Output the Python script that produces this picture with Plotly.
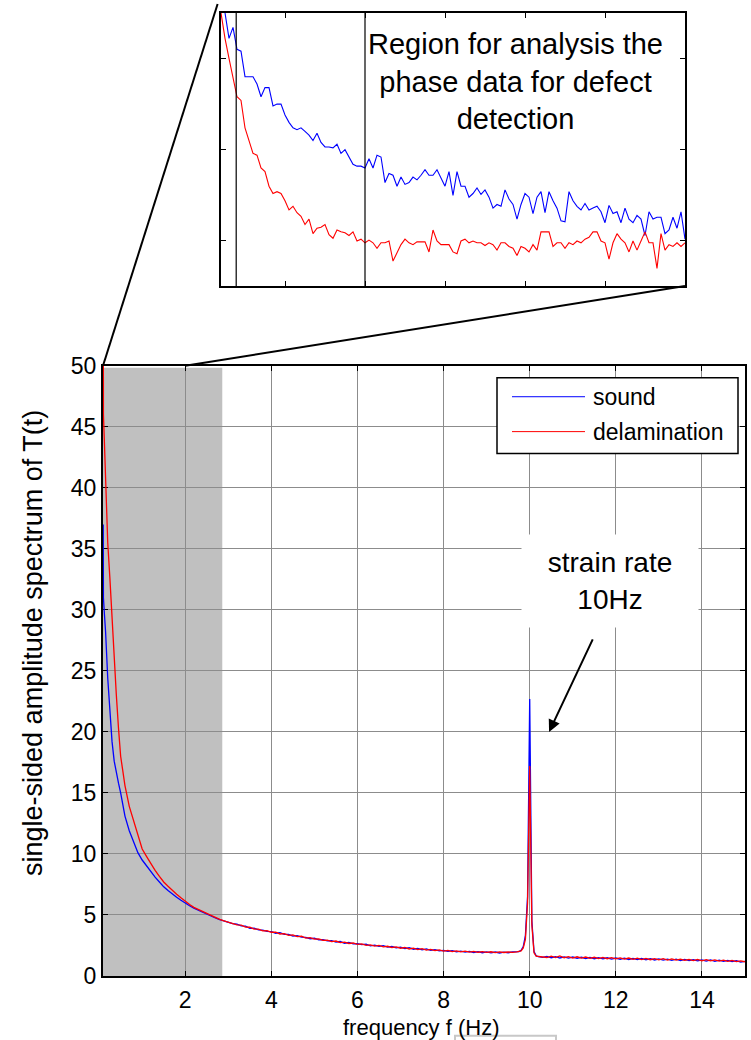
import numpy as np
import plotly.graph_objects as go

W, H = 751, 1040
FONT = "Liberation Sans, Arial, Helvetica, sans-serif"

# ---------------- main spectrum data ----------------
freq_low = [0.095, 0.1, 0.12, 0.15, 0.2, 0.25, 0.3, 0.35, 0.4, 0.45, 0.5, 0.55, 0.6,
            0.7, 0.8, 0.9, 1.0, 1.1, 1.2, 1.3, 1.4, 1.5, 1.6, 1.7, 1.8, 1.9, 2.0,
            2.1, 2.2, 2.3, 2.4, 2.5, 2.6, 2.7, 2.8, 2.9, 3.0]
sound_low = [37.0, 31.0, 29.8, 28.2, 24.4, 21.9, 19.2, 17.6, 16.6, 15.8, 15.0, 14.1, 13.1,
             11.9, 11.0, 10.1, 9.5, 9.0, 8.6, 8.1, 7.7, 7.3, 7.0, 6.7, 6.45, 6.2, 5.94,
             5.75, 5.55, 5.38, 5.22, 5.05, 4.9, 4.75, 4.62, 4.5, 4.42]
delam_low = [62.0, 46.0, 44.0, 40.5, 35.5, 32.6, 29.0, 25.8, 23.0, 20.3, 18.0, 16.8, 15.6,
             13.9, 12.8, 11.6, 10.4, 9.8, 9.2, 8.65, 8.15, 7.7, 7.35, 7.0, 6.7, 6.4, 6.1,
             5.85, 5.62, 5.45, 5.3, 5.12, 4.95, 4.78, 4.64, 4.52, 4.4]

freq_mid = np.round(np.arange(3.1, 9.71, 0.1), 2).tolist()
sound_mid = [4.28, 4.25, 4.10, 4.08, 3.90, 3.92, 3.78, 3.76, 3.66, 3.63,
             3.50, 3.55, 3.40, 3.40, 3.26, 3.30, 3.18, 3.16, 3.05, 3.09,
             2.95, 2.98, 2.87, 2.90, 2.78, 2.82, 2.68, 2.74, 2.62, 2.64,
             2.56, 2.60, 2.47, 2.52, 2.42, 2.48, 2.36, 2.41, 2.30, 2.36,
             2.24, 2.31, 2.19, 2.26, 2.14, 2.21, 2.10, 2.16, 2.05, 2.10,
             2.02, 2.08, 1.98, 2.04, 1.96, 2.01, 1.92, 1.99, 1.90, 1.97,
             1.89, 1.96, 1.88, 1.95, 1.90, 1.97, 1.98]
delam_mid = [4.34, 4.18, 4.17, 4.00, 3.99, 3.83, 3.84, 3.70, 3.72, 3.58,
             3.58, 3.44, 3.47, 3.33, 3.36, 3.22, 3.25, 3.10, 3.14, 3.01,
             3.03, 2.91, 2.93, 2.82, 2.86, 2.73, 2.77, 2.66, 2.70, 2.58,
             2.63, 2.51, 2.55, 2.45, 2.50, 2.38, 2.43, 2.33, 2.38, 2.27,
             2.33, 2.21, 2.28, 2.16, 2.23, 2.12, 2.18, 2.08, 2.13, 2.04,
             2.09, 2.00, 2.05, 1.97, 2.03, 1.95, 2.01, 1.94, 1.99, 1.93,
             1.98, 1.91, 1.97, 1.92, 1.96, 1.93, 1.97]

freq_peak = [9.75, 9.8, 9.85, 9.9, 9.95, 10.0, 10.05, 10.1, 10.15, 10.2]
sound_peak = [2.0, 2.1, 2.4, 3.3, 6.5, 22.7, 4.5, 2.0, 1.65, 1.58]
delam_peak = [2.0, 2.05, 2.3, 3.0, 6.0, 17.2, 4.2, 1.9, 1.62, 1.6]

freq_tail = np.round(np.arange(10.3, 15.01, 0.1), 2).tolist()
sound_tail = [1.52, 1.60, 1.49, 1.58, 1.47, 1.56, 1.46, 1.55, 1.45, 1.53,
              1.43, 1.52, 1.41, 1.50, 1.40, 1.49, 1.38, 1.47, 1.37, 1.46,
              1.35, 1.44, 1.34, 1.43, 1.32, 1.41, 1.31, 1.40, 1.30, 1.38,
              1.28, 1.37, 1.26, 1.35, 1.25, 1.34, 1.24, 1.32, 1.22, 1.31,
              1.20, 1.29, 1.19, 1.27, 1.17, 1.25, 1.13, 1.20]
delam_tail = [1.61, 1.51, 1.62, 1.50, 1.64, 1.49, 1.58, 1.47, 1.57, 1.46,
              1.55, 1.44, 1.53, 1.42, 1.52, 1.41, 1.50, 1.40, 1.48, 1.38,
              1.47, 1.36, 1.45, 1.34, 1.44, 1.33, 1.42, 1.32, 1.41, 1.30,
              1.39, 1.29, 1.38, 1.27, 1.36, 1.26, 1.35, 1.24, 1.33, 1.23,
              1.31, 1.21, 1.29, 1.19, 1.27, 1.17, 1.24, 1.16]

freq = freq_low + freq_mid + freq_peak + freq_tail
sound = sound_low + sound_mid + sound_peak + sound_tail
delam = delam_low + delam_mid + delam_peak + delam_tail

# ---------------- inset data ----------------
inset_freq = np.round(np.arange(0.2, 6.001, 0.05), 3).tolist()
inset_sound = [3.30, 3.25, 3.11, 3.17, 3.05, 3.04, 2.90, 2.90, 2.90, 2.86,
               2.79, 2.84, 2.84, 2.74, 2.75, 2.75, 2.69, 2.65, 2.62, 2.61,
               2.62, 2.60, 2.58, 2.55, 2.59, 2.54, 2.515, 2.515, 2.51, 2.53,
               2.48, 2.50, 2.46, 2.42, 2.41, 2.41, 2.40, 2.45, 2.40, 2.47,
               2.46, 2.32, 2.37, 2.36, 2.30, 2.35, 2.31, 2.32, 2.35, 2.335,
               2.36, 2.39, 2.36, 2.36, 2.39, 2.345, 2.30, 2.38, 2.25, 2.38,
               2.30, 2.30, 2.24, 2.26, 2.29, 2.255, 2.28, 2.24, 2.18, 2.20,
               2.19, 2.28, 2.23, 2.20, 2.12, 2.20, 2.26, 2.24, 2.15, 2.24,
               2.27, 2.155, 2.27, 2.22, 2.18, 2.11, 2.105, 2.27, 2.22, 2.19,
               2.17, 2.205, 2.17, 2.18, 2.19, 2.16, 2.10, 2.195, 2.15, 2.16,
               2.10, 2.18, 2.12, 2.10, 2.14, 2.12, 2.03, 2.16, 2.12, 2.13,
               2.13, 2.04, 2.06, 2.13, 2.07, 2.16, 2.01]
inset_delam = [3.25, 3.11, 3.00, 2.90, 2.79, 2.77, 2.62, 2.55, 2.48, 2.47,
               2.40, 2.38, 2.30, 2.26, 2.27, 2.26, 2.22, 2.17, 2.19, 2.155,
               2.135, 2.09, 2.12, 2.04, 2.07, 2.075, 2.09, 2.035, 2.015, 2.06,
               2.05, 2.045, 2.03, 2.05, 2.00, 2.01, 1.99, 2.005, 1.99, 1.96,
               1.99, 1.99, 2.00, 1.89, 1.94, 1.98, 2.01, 1.99, 1.98, 1.995,
               1.995, 1.995, 1.94, 2.06, 2.00, 1.98, 1.98, 1.98, 1.94, 1.93,
               2.00, 2.01, 1.99, 2.00, 1.99, 1.99, 1.975, 1.99, 1.98, 1.95,
               1.99, 1.99, 1.97, 1.96, 1.92, 1.97, 1.96, 1.94, 1.98, 1.95,
               2.05, 2.05, 2.05, 1.97, 1.99, 1.99, 1.96, 1.99, 1.98, 2.00,
               1.99, 2.01, 2.02, 2.05, 2.05, 2.00, 1.99, 1.90, 1.99, 2.04,
               2.01, 1.99, 1.94, 2.00, 1.95, 2.00, 2.05, 1.99, 1.99, 1.85,
               2.04, 1.95, 1.98, 1.97, 1.99, 1.97, 1.99]
inset_markers = [0.39, 2.0]

# ---------------- ticks / ranges / annotation anchors ----------------
x_ticks = [2, 4, 6, 8, 10, 12, 14]
y_ticks = [0, 5, 10, 15, 20, 25, 30, 35, 40, 45, 50]
inset_xticks = [1, 2, 3, 4, 5, 6]
inset_yticks = [2, 2.5, 3]
x_range = [0.09, 15.0]
y_range = [0, 50]
inset_x_range = [0.2, 6.0]
inset_y_range = [1.753, 3.249]
shade_band = [0.09, 2.86]
shade_top = 49.85
zoom_edge_freq = 2.0
arrow_tip = (10.45, 20.0)
arrow_tail = (11.48, 27.7)
strain_label = (11.87, 32.4)
inset_label = (3.875, 2.876)

# the photographed page comes out slightly squeezed vertically; compensate
V_SCALE, V_OFF = 0.978, 9.1


def pxx(p):
    return p / W


def pxy(p, clamp=False):
    v = 1 - ((p - V_OFF) / V_SCALE) / H
    if clamp:
        v = min(1.0, max(0.0, v))
    return v


main_dx = [pxx(103), pxx(745)]
main_dy = [pxy(975, True), pxy(363, True)]
inset_dx = [pxx(221), pxx(685)]
inset_dy = [pxy(283, True), pxy(6, True)]

BLUE = "#0000ff"
RED = "#ff0000"

fig = go.Figure()
fig.add_trace(go.Scatter(x=freq, y=sound, mode="lines", name="sound",
                         line=dict(color=BLUE, width=1.3), xaxis="x", yaxis="y"))
fig.add_trace(go.Scatter(x=freq, y=delam, mode="lines", name="delamination",
                         line=dict(color=RED, width=1.3), xaxis="x", yaxis="y"))
fig.add_trace(go.Scatter(x=inset_freq, y=inset_sound, mode="lines", name="sound (zoom)",
                         line=dict(color=BLUE, width=1.1), xaxis="x2", yaxis="y2"))
fig.add_trace(go.Scatter(x=inset_freq, y=inset_delam, mode="lines", name="delamination (zoom)",
                         line=dict(color=RED, width=1.1), xaxis="x2", yaxis="y2"))

axis_common = dict(showline=True, linecolor="black", linewidth=2, mirror="ticks",
                   ticks="inside", ticklen=5, tickwidth=1, tickcolor="black",
                   zeroline=False, layer="below traces")
tickfont = dict(family=FONT, size=23, color="black")

fig.update_layout(
    width=W, height=H,
    margin=dict(l=0, r=0, t=0, b=0),
    paper_bgcolor="white", plot_bgcolor="white",
    showlegend=False,
    font=dict(family=FONT, color="black"),
    xaxis=dict(domain=main_dx, range=x_range, tickvals=x_ticks, anchor="y",
               showgrid=True, gridcolor="#8c8c8c", gridwidth=1, tickfont=tickfont,
               ticklabelstandoff=2, **axis_common),
    yaxis=dict(domain=main_dy, range=y_range, tickvals=y_ticks, anchor="x",
               showgrid=True, gridcolor="#8c8c8c", gridwidth=1, tickfont=tickfont,
               **axis_common),
    xaxis2=dict(domain=inset_dx, range=inset_x_range, tickvals=inset_xticks, anchor="y2",
                showgrid=False, showticklabels=False, **axis_common),
    yaxis2=dict(domain=inset_dy, range=inset_y_range, tickvals=inset_yticks, anchor="x2",
                showgrid=False, showticklabels=False, **axis_common),
)

shapes = []
# shaded analysis region
shapes.append(dict(type="rect", xref="x", yref="y", x0=shade_band[0], x1=shade_band[1],
                   y0=0, y1=shade_top, fillcolor="#c0c0c0", line=dict(width=0), layer="below"))
# inset vertical markers
for m in inset_markers:
    shapes.append(dict(type="line", xref="x2", yref="y2 domain", x0=m, x1=m, y0=0, y1=1,
                       line=dict(color="black", width=1.2)))
# zoom connector lines
edge_paper = main_dx[0] + (zoom_edge_freq - x_range[0]) / (x_range[1] - x_range[0]) * (main_dx[1] - main_dx[0])
shapes.append(dict(type="line", xref="paper", yref="paper", x0=main_dx[0], y0=main_dy[1],
                   x1=pxx(217.6), y1=pxy(0), line=dict(color="black", width=2)))
shapes.append(dict(type="line", xref="paper", yref="paper", x0=edge_paper, y0=main_dy[1],
                   x1=inset_dx[1], y1=inset_dy[0], line=dict(color="black", width=2)))
# legend box
shapes.append(dict(type="rect", xref="paper", yref="paper", x0=pxx(497), x1=pxx(738),
                   y0=pxy(451), y1=pxy(375), fillcolor="white", line=dict(color="black", width=1.5)))
shapes.append(dict(type="line", xref="paper", yref="paper", x0=pxx(512), x1=pxx(585),
                   y0=pxy(394), y1=pxy(394), line=dict(color=BLUE, width=1)))
shapes.append(dict(type="line", xref="paper", yref="paper", x0=pxx(512), x1=pxx(585),
                   y0=pxy(429), y1=pxy(429), line=dict(color=RED, width=1)))
# faint rounded frame at the bottom edge
shapes.append(dict(type="rect", xref="paper", yref="paper", x0=pxx(455), x1=pxx(556),
                   y0=pxy(1070), y1=pxy(1035), line=dict(color="#c8c8c8", width=2)))
fig.update_layout(shapes=shapes)

annotations = [
    dict(x=inset_label[0], y=inset_label[1], xref="x2", yref="y2", showarrow=False,
         xanchor="center", yanchor="middle",
         text="Region for analysis the<br>phase data for defect<br>detection",
         font=dict(family=FONT, size=29, color="black"), align="center"),
    dict(x=strain_label[0], y=strain_label[1], xref="x", yref="y", showarrow=False,
         xanchor="center", yanchor="middle",
         text="strain rate<br>10Hz", font=dict(family=FONT, size=28, color="black"),
         align="center", bgcolor="white", width=172, height=88, borderpad=2),
    dict(x=arrow_tip[0], y=arrow_tip[1], ax=arrow_tail[0], ay=arrow_tail[1],
         xref="x", yref="y", axref="x", ayref="y", text="", showarrow=True,
         arrowhead=2, arrowsize=1.2, arrowwidth=2, arrowcolor="black"),
    dict(x=pxx(33), y=pxy(641), xref="paper", yref="paper", showarrow=False,
         xanchor="center", yanchor="middle",
         text="single-sided amplitude spectrum of T(t)", textangle=-90,
         font=dict(family=FONT, size=27, color="black")),
    dict(x=pxx(421), y=pxy(1027), xref="paper", yref="paper", showarrow=False,
         xanchor="center", yanchor="middle",
         text="frequency f (Hz)", font=dict(family=FONT, size=22, color="black")),
    dict(x=pxx(591), y=pxy(394), xref="paper", yref="paper", showarrow=False,
         xanchor="left", yanchor="middle", text="sound",
         font=dict(family=FONT, size=23, color="black")),
    dict(x=pxx(591), y=pxy(429), xref="paper", yref="paper", showarrow=False,
         xanchor="left", yanchor="middle", text="delamination",
         font=dict(family=FONT, size=23, color="black")),
]
fig.update_layout(annotations=annotations)

fig.write_html("out.html")
